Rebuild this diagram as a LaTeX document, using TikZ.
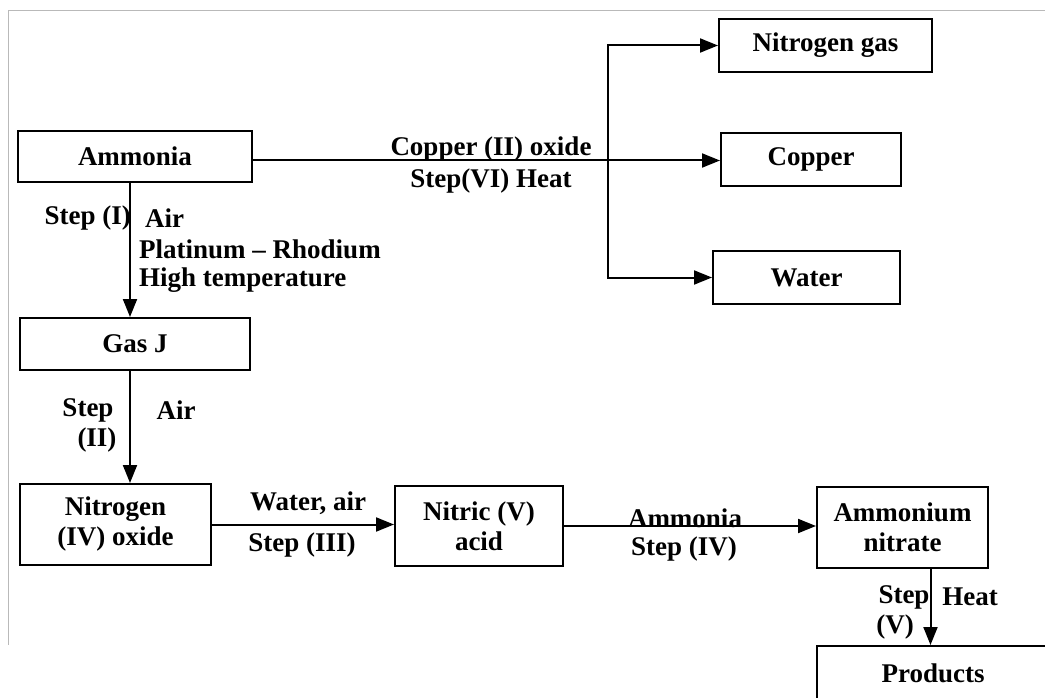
\documentclass[tikz,border=0pt]{standalone}
\usepackage{fontspec}
\setmainfont{Liberation Serif}
\usetikzlibrary{arrows.meta, positioning, calc}

\begin{document}
\begin{tikzpicture}[x=1pt, y=-1pt,
    box/.style={draw, line width=2pt, align=center, inner sep=0pt,
        font=\fontsize{27}{30}\selectfont\bfseries},
    lbl/.style={inner sep=0pt, font=\fontsize{27}{30}\selectfont\bfseries},
    arr/.style={line width=2pt, -{Triangle[length=18pt, width=14pt]}}]
    \useasboundingbox (0,0) rectangle (1045,698);
    % page frame
    \draw[gray!55, line width=0.8pt] (1045,10) -- (8,10) -- (8,645);

    % substances
    \node[box, minimum width=234, minimum height=51] (ammonia) at (135,156.5) {Ammonia};
    \node[box, minimum width=213, minimum height=53] (ngas) at (825.5,45.5) {Nitrogen gas};
    \node[box, minimum width=180, minimum height=53] (copper) at (811,159.5) {Copper};
    \node[box, minimum width=187, minimum height=53] (water) at (806.5,277.5) {Water};
    \node[box, minimum width=230, minimum height=52] (gasj) at (135,344) {Gas J};
    \node[box, minimum width=191, minimum height=81] (no2) at (115.5,524.5) {Nitrogen\\(IV) oxide};
    \node[box, minimum width=168, minimum height=80] (nitric) at (479,526) {Nitric (V)\\acid};
    \node[box, minimum width=171, minimum height=81] (an) at (902.5,527.5) {Ammonium\\nitrate};
    \node[box, minimum width=232, minimum height=54] (prod) at (933,673) {Products};

    % step VI
    \coordinate (split) at (608,0);
    \draw[arr] ([yshift=-4pt]ammonia.east) -- ([yshift=-4pt]ammonia.east -| copper.west);
    \draw[arr] ([yshift=-4pt]ammonia.east -| split) |- (ngas.west);
    \draw[arr] ([yshift=-4pt]ammonia.east -| split) |- (water.west);
    \node[lbl] (cuo) at (491,149) {Copper (II) oxide};
    \node[lbl] (s6) at (491,181) {Step(VI) Heat};

    % step I
    \draw[arr] ([xshift=-5pt]ammonia.south) -- ([xshift=-5pt]ammonia.south |- gasj.north);
    \node[lbl, anchor=east] (s1) at (131,218) {Step (I)};
    \node[lbl, anchor=west] (air1) at (145,218) {Air};
    \node[lbl, anchor=west] (ptrh) at (139,249) {Platinum -- Rhodium};
    \node[lbl, anchor=west] (hot) at (139,280) {High temperature};

    % step II
    \draw[arr] ([xshift=-5pt]gasj.south) -- ([xshift=-5pt]gasj.south |- no2.north);
    \node[lbl] (s2) at (88,410) {Step};
    \node[lbl] (s2b) at (97,440) {(II)};
    \node[lbl] (air2) at (176,410) {Air};

    % step III
    \draw[arr] (no2.east) -- (no2.east -| nitric.west);
    \node[lbl] (wa) at (308,503) {Water, air};
    \node[lbl] (s3) at (302,545) {Step (III)};

    % step IV
    \draw[arr] (nitric.east) -- (nitric.east -| an.west);
    \node[lbl] (nh3) at (685,518) {Ammonia};
    \node[lbl] (s4) at (684,549) {Step (IV)};

    % step V
    \draw[arr] ([xshift=28pt]an.south) -- ([xshift=28pt]an.south |- prod.north);
    \node[lbl] (s5) at (904,597) {Step};
    \node[lbl] (s5b) at (895,627) {(V)};
    \node[lbl] (heat) at (970,597) {Heat};
\end{tikzpicture}
\end{document}
